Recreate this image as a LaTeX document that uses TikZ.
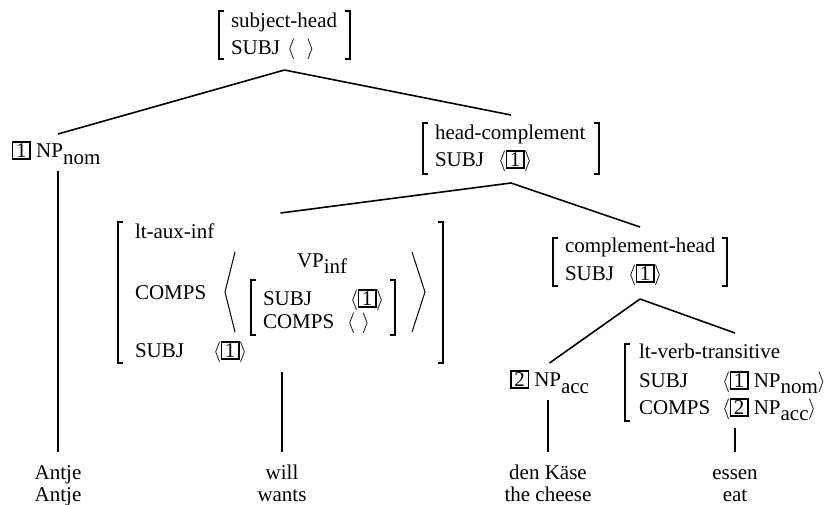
\documentclass[tikz,border=0pt]{standalone}
\usepackage{fontspec}
\setmainfont{Liberation Serif}
\usetikzlibrary{fit}

% boxed structure-sharing tag
\newcommand\tg[1]{{\setlength\fboxsep{0pt}\setlength\fboxrule{1.5pt}\fbox{\rule[-1pt]{0pt}{15.5pt}\makebox[16pt]{#1}}}}
% full-size lowered subscript
\newcommand\sbs[1]{\raisebox{-7pt}{#1}}
% list in angle brackets
\newcommand\lst[1]{$\langle$\kern-0.5pt#1\kern-0.5pt$\rangle$}
% attribute-value matrix frame: name, corner, corner
\newcommand\avm[3]{%
  \node[fit={#2 #3}, inner sep=0pt] (#1) {};
  \draw[brk] ([xshift=5pt]#1.north west) -- (#1.north west) -- (#1.south west) -- ([xshift=5pt]#1.south west);
  \draw[brk] ([xshift=-5pt]#1.north east) -- (#1.north east) -- (#1.south east) -- ([xshift=-5pt]#1.south east);}

\begin{document}
\begin{tikzpicture}[x=1pt,y=-1pt,
  every node/.style={font=\fontsize{21}{26}\selectfont, outer sep=0pt},
  txt/.style={anchor=base west, inner sep=0pt},
  cat/.style={anchor=base west, inner xsep=0pt, inner ysep=7pt},
  word/.style={anchor=base, inner xsep=0pt, inner ysep=12pt, text height=15pt, text depth=5pt},
  gloss/.style={anchor=base, inner sep=0pt},
  branch/.style={line width=1.6pt},
  brk/.style={line width=1.2pt},
  ang/.style={line width=1pt}]
\useasboundingbox (0,0) rectangle (836,504);

% root: subject-head
\node[txt] (sh-t) at (231,27) {subject-head};
\node[txt] (sh-f) at (231,54) {SUBJ};
\node[txt] (sh-v) at (287,54) {$\langle\mkern10mu\rangle$};
\avm{sh}{(219,11)}{(350,59)}

% subject daughter
\node[cat] (np1) at (12,157) {\tg{1} NP\sbs{nom}};

% head-complement
\node[txt] (hc-t) at (435,139) {head-complement};
\node[txt] (hc-f) at (435,166) {SUBJ};
\node[txt] (hc-v) at (498,166) {\lst{\tg{1}}};
\avm{hc}{(423,123)}{(599,174)}

% auxiliary
\node[txt] (ax-t) at (135,238) {lt-aux-inf};
\node[txt] (ax-c) at (135,299) {COMPS};
\node[txt] (ax-s) at (135,357) {SUBJ};
\node[txt] (ax-sv) at (213,357) {\lst{\tg{1}}};
\node[txt] (vp) at (297,267) {VP\raisebox{-6pt}{inf}};
\node[txt] (in-s) at (263,305) {SUBJ};
\node[txt] (in-sv) at (350,305) {\lst{\tg{1}}};
\node[txt] (in-c) at (263,328) {COMPS};
\node[txt] (in-cv) at (347,328) {$\langle\mkern6mu\rangle$};
\avm{in}{(251,280)}{(395,335)}
\draw[ang] (235,252) -- (225,292) -- (235,332);
\draw[ang] (412,252) -- (425,292) -- (412,332);
\avm{ax}{(118,222)}{(443,363)}

% complement-head
\node[txt] (ch-t) at (565,252) {complement-head};
\node[txt] (ch-f) at (565,280) {SUBJ};
\node[txt] (ch-v) at (628,280) {\lst{\tg{1}}};
\avm{ch}{(553,238)}{(727,286)}

% object
\node[cat] (np2) at (510,386) {\tg{2} NP\sbs{acc}};

% verb
\node[txt] (vt-t) at (639,358) {lt-verb-transitive};
\node[txt] (vt-s) at (639,387) {SUBJ};
\node[txt] (vt-sv) at (722,387) {\lst{\tg{1} NP\raisebox{-6pt}{nom}}};
\node[txt] (vt-c) at (639,414) {COMPS};
\node[txt] (vt-cv) at (722,414) {\lst{\tg{2} NP\raisebox{-6pt}{acc}}};
\avm{vt}{(625,344)}{(845,421)}

% words and glosses
\node[word] (w1) at (58,479) {Antje};
\node[gloss] (g1) at (58,501) {Antje};
\node[word] (w2) at (282,479) {will};
\node[gloss] (g2) at (282,501) {wants};
\node[word] (w3) at (548,479) {den Käse};
\node[gloss] (g3) at (548,501) {the cheese};
\node[word] (w4) at (735,479) {essen};
\node[gloss] (g4) at (735,501) {eat};

% branches
\draw[branch] (sh.south) ++(0,11) coordinate (sh-ap) -- (np1.north -| w1.north);
\draw[branch] (sh-ap) -- ([yshift=8pt]hc.north);
\draw[branch] (np1.south -| w1.north) -- (w1.north);
\draw[branch] (hc.south) ++(0,9) coordinate (hc-ap) -- ([yshift=9pt]ax.north);
\draw[branch] (hc-ap) -- ([yshift=11pt]ch.north);
\draw[branch] (ax.south -| w2.north) ++(0,9) -- (w2.north);
\draw[branch] (ch.south) ++(0,13) coordinate (ch-ap) -- (np2.north);
\draw[branch] (ch-ap) -- ([yshift=11pt]vt.north);
\draw[branch] (np2.south -| w3.north) -- (w3.north);
\draw[branch] (vt.south) ++(0,7) -- (w4.north);
\end{tikzpicture}
\end{document}
